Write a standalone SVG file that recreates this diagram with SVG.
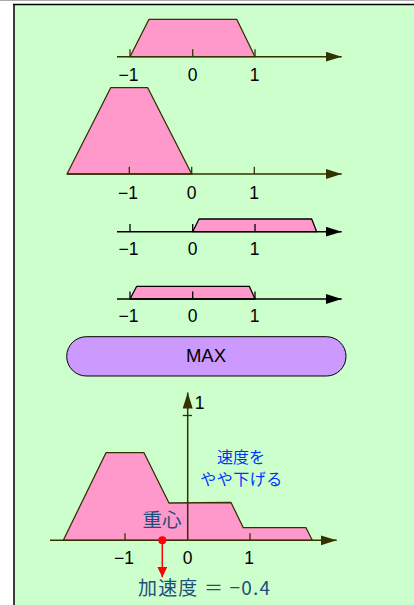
<svg xmlns="http://www.w3.org/2000/svg" width="414" height="605" viewBox="0 0 414 605">
<style>
.ax{stroke:#333300;stroke-width:1.5;fill:none}
.axk{stroke:#000;stroke-width:1.5;fill:none}
.tk{stroke:#333300;stroke-width:1.3}
.tkk{stroke:#000;stroke-width:1.3}
.mf{fill:#ff99cc;stroke:#333300;stroke-width:1.3;stroke-linejoin:round}
.mfk{fill:#ff99cc;stroke:#000;stroke-width:1.3;stroke-linejoin:round}
.num{font-family:"Liberation Sans",Arial,sans-serif;font-size:17.5px;fill:#000;text-anchor:middle}
.jp{font-family:"Noto Sans CJK JP","Noto Sans",sans-serif}
</style>
<defs>
<marker id="ah" markerUnits="userSpaceOnUse" markerWidth="18" markerHeight="12" refX="16" refY="5" orient="auto">
<path d="M0,0 L16,5 L0,10 Z" fill="#333300"/>
</marker>
<marker id="ahk" markerUnits="userSpaceOnUse" markerWidth="18" markerHeight="12" refX="16" refY="5" orient="auto">
<path d="M0,0 L16,5 L0,10 Z" fill="#000"/>
</marker>
<marker id="ahr" markerUnits="userSpaceOnUse" markerWidth="12" markerHeight="12" refX="10.5" refY="5" orient="auto">
<path d="M0,0 L10.5,5 L0,10 Z" fill="#ff0000"/>
</marker>
</defs>
<rect width="414" height="605" fill="#fff"/>
<line x1="0" y1="0.5" x2="414" y2="0.5" stroke="#aaaaaa" stroke-width="1"/>
<rect x="14" y="5" width="400" height="600" fill="#ccffcc"/>
<line x1="13" y1="4.5" x2="414" y2="4.5" stroke="#000" stroke-width="1.5"/>
<line x1="14" y1="4" x2="14" y2="605" stroke="#000" stroke-width="1.5"/>

<g id="chart1">
<polygon class="mf" points="130,56.7 149,19.3 236.7,19.3 255,56.7"/>
<line class="ax" x1="117" y1="56.7" x2="341.7" y2="56.7" marker-end="url(#ah)"/>
<line class="tk" x1="130" y1="49.3" x2="130" y2="56.7"/>
<line class="tk" x1="192.7" y1="49.3" x2="192.7" y2="56.7"/>
<line class="tk" x1="255" y1="49.3" x2="255" y2="56.7"/>
<text class="num" x="128.5" y="81">−1</text>
<text class="num" x="192.5" y="81">0</text>
<text class="num" x="254.5" y="81">1</text>
</g>

<g id="chart2">
<polygon class="mf" points="67,174 110.7,87.7 147.7,87.7 191.7,174"/>
<line class="ax" x1="67" y1="174" x2="341.7" y2="174" marker-end="url(#ah)"/>
<line class="tk" x1="129.3" y1="166.7" x2="129.3" y2="174"/>
<line class="tk" x1="191.7" y1="166.7" x2="191.7" y2="174"/>
<line class="tk" x1="254.3" y1="166.7" x2="254.3" y2="174"/>
<text class="num" x="128" y="199">−1</text>
<text class="num" x="191.5" y="199">0</text>
<text class="num" x="254" y="199">1</text>
</g>

<g id="chart3">
<polygon class="mfk" points="192.7,231.7 199,219 311.7,219 316.7,231.7"/>
<line class="axk" x1="117" y1="231.7" x2="341.7" y2="231.7" marker-end="url(#ahk)"/>
<line class="tkk" x1="130" y1="224" x2="130" y2="231.7"/>
<line class="tkk" x1="192.7" y1="224" x2="192.7" y2="231.7"/>
<line class="tkk" x1="255" y1="224" x2="255" y2="231.7"/>
<text class="num" x="128.5" y="255">−1</text>
<text class="num" x="192.5" y="255">0</text>
<text class="num" x="254.5" y="255">1</text>
</g>

<g id="chart4">
<polygon class="mfk" points="130,299 136.7,286.3 249.3,286.3 255,299"/>
<line class="axk" x1="117" y1="299" x2="341.7" y2="299" marker-end="url(#ahk)"/>
<line class="tkk" x1="130" y1="291.5" x2="130" y2="299"/>
<line class="tkk" x1="192.7" y1="291.5" x2="192.7" y2="299"/>
<line class="tkk" x1="255" y1="291.5" x2="255" y2="299"/>
<text class="num" x="128.5" y="322">−1</text>
<text class="num" x="192.5" y="322">0</text>
<text class="num" x="254.5" y="322">1</text>
</g>

<g id="max">
<rect x="66.7" y="336.7" width="279.3" height="39.3" rx="19.6" ry="19.6" fill="#cc99ff" stroke="#000" stroke-width="1"/>
<text x="206" y="362" font-family="Liberation Sans, Arial, sans-serif" font-size="18.5" text-anchor="middle" fill="#000">MAX</text>
</g>

<g id="result">
<polygon class="mf" points="63.3,540.3 106,452.7 144,452.7 169,503 231,502.5 243.3,527.7 306,527.7 312.3,540.3"/>
<line class="ax" x1="50" y1="540.3" x2="336.7" y2="540.3" marker-end="url(#ah)"/>
<line class="ax" x1="187.7" y1="540.3" x2="187.7" y2="392.5" marker-end="url(#ah)"/>
<line class="tk" x1="125" y1="533.3" x2="125" y2="540.3"/>
<line class="tk" x1="250" y1="533.3" x2="250" y2="540.3"/>
<line class="tk" x1="182.7" y1="415.5" x2="192" y2="415.5"/>
<text class="num" x="199.5" y="409">1</text>
<text class="num" x="124" y="564">−1</text>
<text class="num" x="187.5" y="564">0</text>
<text class="num" x="249" y="564">1</text>
<text class="jp" x="241" y="462.5" font-size="16" fill="#0033ff" text-anchor="middle">速度を</text>
<text class="jp" x="241.3" y="484.5" font-size="16" fill="#0033ff" text-anchor="middle" textLength="82" lengthAdjust="spacing">やや下げる</text>
<text class="jp" x="162" y="526.5" font-size="19.5" fill="#1f4e79" text-anchor="middle">重心</text>
<circle cx="162.3" cy="540.3" r="4" fill="#ff0000"/>
<line x1="162.3" y1="540.3" x2="162.3" y2="577.3" stroke="#ff0000" stroke-width="1.5" marker-end="url(#ahr)"/>
<text class="jp" x="138" y="595" font-size="19" fill="#1f4e79" textLength="132" lengthAdjust="spacing">加速度 ＝ −0.4</text>
</g>
</svg>
